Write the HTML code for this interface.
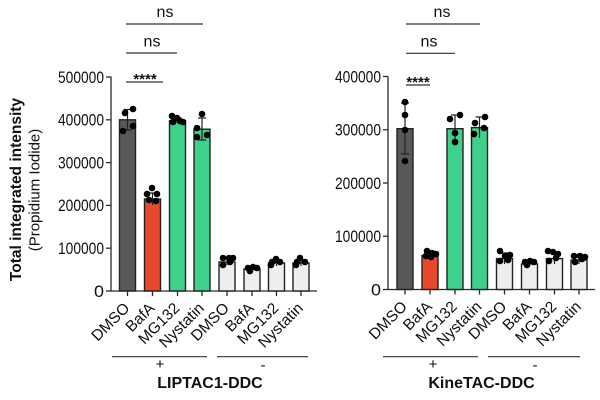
<!DOCTYPE html>
<html><head><meta charset="utf-8"><style>
html,body{margin:0;padding:0;background:#fff;}
svg{display:block;}
text{font-family:"Liberation Sans",Arial,sans-serif;fill:#111;}
</style></head><body>
<svg width="600" height="400" viewBox="0 0 600 400" xmlns="http://www.w3.org/2000/svg">
<!-- Y axis label -->
<text transform="translate(21,189.5) rotate(-90)" text-anchor="middle" font-size="15.5" font-weight="bold">Total integrated intensity</text>
<text transform="translate(39.5,190) rotate(-90)" text-anchor="middle" font-size="15">(Propidium Iodide)</text>

<g stroke="#2a2a2a" stroke-width="1.3" fill="none">
<!-- LEFT axes -->
<line x1="111" y1="76.5" x2="111" y2="291"/>
<line x1="111" y1="291" x2="317" y2="291"/>
<line x1="106" y1="291" x2="111" y2="291"/>
<line x1="106" y1="248.2" x2="111" y2="248.2"/>
<line x1="106" y1="205.4" x2="111" y2="205.4"/>
<line x1="106" y1="162.6" x2="111" y2="162.6"/>
<line x1="106" y1="119.8" x2="111" y2="119.8"/>
<line x1="106" y1="77" x2="111" y2="77"/>
<line x1="127.5" y1="291" x2="127.5" y2="296"/>
<line x1="152.5" y1="291" x2="152.5" y2="296"/>
<line x1="177.5" y1="291" x2="177.5" y2="296"/>
<line x1="202" y1="291" x2="202" y2="296"/>
<line x1="227" y1="291" x2="227" y2="296"/>
<line x1="252" y1="291" x2="252" y2="296"/>
<line x1="276.5" y1="291" x2="276.5" y2="296"/>
<line x1="301" y1="291" x2="301" y2="296"/>
<!-- RIGHT axes -->
<line x1="388" y1="76.5" x2="388" y2="289.5"/>
<line x1="388" y1="289.5" x2="595" y2="289.5"/>
<line x1="383" y1="289.5" x2="388" y2="289.5"/>
<line x1="383" y1="236.25" x2="388" y2="236.25"/>
<line x1="383" y1="183" x2="388" y2="183"/>
<line x1="383" y1="129.75" x2="388" y2="129.75"/>
<line x1="383" y1="76.5" x2="388" y2="76.5"/>
<line x1="405" y1="289.5" x2="405" y2="294.5"/>
<line x1="430" y1="289.5" x2="430" y2="294.5"/>
<line x1="455" y1="289.5" x2="455" y2="294.5"/>
<line x1="479.5" y1="289.5" x2="479.5" y2="294.5"/>
<line x1="504.5" y1="289.5" x2="504.5" y2="294.5"/>
<line x1="529.5" y1="289.5" x2="529.5" y2="294.5"/>
<line x1="554.5" y1="289.5" x2="554.5" y2="294.5"/>
<line x1="579" y1="289.5" x2="579" y2="294.5"/>
</g>

<!-- Y tick labels -->
<g font-size="16.5" text-anchor="end">
<text x="104" y="297" textLength="10" lengthAdjust="spacingAndGlyphs">0</text>
<text x="104" y="254" textLength="46" lengthAdjust="spacingAndGlyphs">100000</text>
<text x="104" y="211" textLength="46" lengthAdjust="spacingAndGlyphs">200000</text>
<text x="104" y="168.5" textLength="46" lengthAdjust="spacingAndGlyphs">300000</text>
<text x="104" y="125.5" textLength="46" lengthAdjust="spacingAndGlyphs">400000</text>
<text x="104" y="83" textLength="46" lengthAdjust="spacingAndGlyphs">500000</text>
<text x="381" y="295.5" textLength="10" lengthAdjust="spacingAndGlyphs">0</text>
<text x="381" y="242" textLength="46" lengthAdjust="spacingAndGlyphs">100000</text>
<text x="381" y="189" textLength="46" lengthAdjust="spacingAndGlyphs">200000</text>
<text x="381" y="135.5" textLength="46" lengthAdjust="spacingAndGlyphs">300000</text>
<text x="381" y="82.5" textLength="46" lengthAdjust="spacingAndGlyphs">400000</text>
</g>

<!-- LEFT bars -->
<g stroke="#222" stroke-width="1.4">
<rect x="119.5" y="119.8" width="16" height="171.2" fill="#58595b"/>
<rect x="144.5" y="199" width="16" height="92" fill="#e8492b"/>
<rect x="169.5" y="120.7" width="16" height="170.3" fill="#3fd18c"/>
<rect x="194" y="129.2" width="16" height="161.8" fill="#3fd18c"/>
<rect x="219" y="262" width="16" height="29" fill="#eceeef"/>
<rect x="244" y="269" width="16" height="22" fill="#eceeef"/>
<rect x="268.5" y="263" width="16" height="28" fill="#eceeef"/>
<rect x="293" y="263" width="16" height="28" fill="#eceeef"/>
<!-- RIGHT bars -->
<rect x="397" y="128.7" width="16" height="160.8" fill="#58595b"/>
<rect x="422" y="255.4" width="16" height="34.1" fill="#e8492b"/>
<rect x="447" y="128.7" width="16" height="160.8" fill="#3fd18c"/>
<rect x="471.5" y="127.6" width="16" height="161.9" fill="#3fd18c"/>
<rect x="496.5" y="258.6" width="16" height="30.9" fill="#eceeef"/>
<rect x="521.5" y="264" width="16" height="25.5" fill="#eceeef"/>
<rect x="546.5" y="258.6" width="16" height="30.9" fill="#eceeef"/>
<rect x="571" y="260" width="16" height="29.5" fill="#eceeef"/>
</g>

<!-- error bars -->
<g stroke="#222" stroke-width="1.2" fill="none">
<path d="M127.5 109.5V130M123.5 109.5H131.5M123.5 130H131.5"/>
<path d="M152.5 193V205M148.5 193H156.5"/>
<path d="M177.5 118V123M173.5 118H181.5"/>
<path d="M202 118V140M198 118H206M198 140H206"/>
<path d="M227 259V265M223 259H231"/>
<path d="M252 267V271M248 267H256"/>
<path d="M276.5 260V266M272.5 260H280.5"/>
<path d="M301 260V266M297 260H305"/>
<path d="M405 103V154M401 103H409M401 154H409"/>
<path d="M430 252V258M426 252H434"/>
<path d="M455 115V142M451 115H459"/>
<path d="M479.5 117V138M475.5 117H483.5"/>
<path d="M504.5 253V264M500.5 253H508.5"/>
<path d="M529.5 262V266M525.5 262H533.5"/>
<path d="M554.5 253V264M550.5 253H558.5"/>
<path d="M579 256V264M575 256H583"/>
</g>

<!-- dots -->
<g fill="#000">
<circle cx="125" cy="113" r="3.3"/><circle cx="133" cy="109" r="3.3"/><circle cx="123" cy="131" r="3.3"/><circle cx="133" cy="126" r="3.3"/>
<circle cx="152" cy="188" r="3.3"/><circle cx="147" cy="194" r="3.3"/><circle cx="157" cy="194" r="3.3"/><circle cx="149" cy="200" r="3.3"/><circle cx="156" cy="201" r="3.3"/>
<circle cx="172" cy="116" r="3.3"/><circle cx="177" cy="118" r="3.3"/><circle cx="180" cy="121" r="3.3"/><circle cx="183" cy="122" r="3.3"/><circle cx="173" cy="122" r="3.3"/>
<circle cx="202" cy="114" r="3.3"/><circle cx="197" cy="128" r="3.3"/><circle cx="197" cy="137" r="3.3"/><circle cx="207" cy="135" r="3.3"/>
<circle cx="223" cy="258" r="3.3"/><circle cx="229" cy="258" r="3.3"/><circle cx="233" cy="258" r="3.3"/><circle cx="223" cy="265" r="3.3"/><circle cx="230" cy="262" r="3.3"/>
<circle cx="248" cy="268" r="3.3"/><circle cx="253" cy="267" r="3.3"/><circle cx="257" cy="268" r="3.3"/><circle cx="250" cy="271" r="3.3"/>
<circle cx="272" cy="262" r="3.3"/><circle cx="276" cy="259" r="3.3"/><circle cx="280" cy="262" r="3.3"/><circle cx="271" cy="265" r="3.3"/>
<circle cx="297" cy="262" r="3.3"/><circle cx="300" cy="258" r="3.3"/><circle cx="305" cy="262" r="3.3"/><circle cx="296" cy="265" r="3.3"/>

<circle cx="405" cy="102" r="3.3"/><circle cx="405" cy="115" r="3.3"/><circle cx="405" cy="130" r="3.3"/><circle cx="405" cy="161" r="3.3"/>
<circle cx="427" cy="251" r="3.3"/><circle cx="432" cy="253" r="3.3"/><circle cx="436" cy="254" r="3.3"/><circle cx="426" cy="256" r="3.3"/><circle cx="431" cy="257" r="3.3"/>
<circle cx="450" cy="119" r="3.3"/><circle cx="460" cy="115" r="3.3"/><circle cx="455" cy="133" r="3.3"/><circle cx="455" cy="142" r="3.3"/>
<circle cx="475" cy="123" r="3.3"/><circle cx="485" cy="117" r="3.3"/><circle cx="474" cy="134" r="3.3"/><circle cx="484" cy="128" r="3.3"/>
<circle cx="500" cy="251" r="3.3"/><circle cx="505" cy="256" r="3.3"/><circle cx="510" cy="255" r="3.3"/><circle cx="500" cy="261" r="3.3"/><circle cx="508" cy="260" r="3.3"/>
<circle cx="525" cy="262" r="3.3"/><circle cx="530" cy="261" r="3.3"/><circle cx="534" cy="262" r="3.3"/><circle cx="527" cy="265" r="3.3"/>
<circle cx="548" cy="251" r="3.3"/><circle cx="553" cy="252" r="3.3"/><circle cx="558" cy="254" r="3.3"/><circle cx="549" cy="261" r="3.3"/><circle cx="556" cy="258" r="3.3"/>
<circle cx="574" cy="256" r="3.3"/><circle cx="580" cy="256" r="3.3"/><circle cx="585" cy="257" r="3.3"/><circle cx="575" cy="262" r="3.3"/><circle cx="582" cy="259" r="3.3"/>
</g>

<!-- significance brackets -->
<g stroke="#333" stroke-width="1.2">
<line x1="126" y1="24" x2="203" y2="24"/>
<line x1="126" y1="53" x2="177" y2="53"/>
<line x1="126" y1="82" x2="163" y2="82"/>
<line x1="406" y1="24" x2="480" y2="24"/>
<line x1="406" y1="53.3" x2="455" y2="53.3"/>
<line x1="406" y1="85" x2="430" y2="85"/>
<!-- group lines -->
<line x1="112" y1="356.7" x2="207" y2="356.7"/>
<line x1="217" y1="356.7" x2="308" y2="356.7"/>
<line x1="383" y1="356.7" x2="478" y2="356.7"/>
<line x1="488" y1="356.7" x2="580" y2="356.7"/>
</g>
<g font-size="16" text-anchor="middle">
<text x="165" y="17">ns</text>
<text x="152" y="46.5">ns</text>
<text x="442" y="17">ns</text>
<text x="429" y="46.5">ns</text>
</g>
<g font-size="15" font-weight="bold" text-anchor="middle">
<text x="145" y="84">****</text>
<text x="418" y="87">****</text>
</g>

<!-- x labels -->
<g font-size="15.5" text-anchor="end">
<text transform="translate(130.5,309) rotate(-45)">DMSO</text>
<text transform="translate(155.5,309) rotate(-45)">BafA</text>
<text transform="translate(180.5,309) rotate(-45)">MG132</text>
<text transform="translate(205,309) rotate(-45)">Nystatin</text>
<text transform="translate(230,309) rotate(-45)">DMSO</text>
<text transform="translate(255,309) rotate(-45)">BafA</text>
<text transform="translate(279.5,309) rotate(-45)">MG132</text>
<text transform="translate(304,309) rotate(-45)">Nystatin</text>
<text transform="translate(408,307.5) rotate(-45)">DMSO</text>
<text transform="translate(433,307.5) rotate(-45)">BafA</text>
<text transform="translate(458,307.5) rotate(-45)">MG132</text>
<text transform="translate(482.5,307.5) rotate(-45)">Nystatin</text>
<text transform="translate(507.5,307.5) rotate(-45)">DMSO</text>
<text transform="translate(532.5,307.5) rotate(-45)">BafA</text>
<text transform="translate(557.5,307.5) rotate(-45)">MG132</text>
<text transform="translate(582,307.5) rotate(-45)">Nystatin</text>
</g>

<!-- group signs -->
<g font-size="15" text-anchor="middle">
<text x="160" y="369">+</text>
<text x="263" y="370">-</text>
<text x="433" y="369">+</text>
<text x="535" y="370">-</text>
</g>
<g font-size="16" font-weight="bold" text-anchor="middle">
<text x="210" y="388">LIPTAC1-DDC</text>
<text x="481.5" y="388">KineTAC-DDC</text>
</g>
</svg>
</body></html>
